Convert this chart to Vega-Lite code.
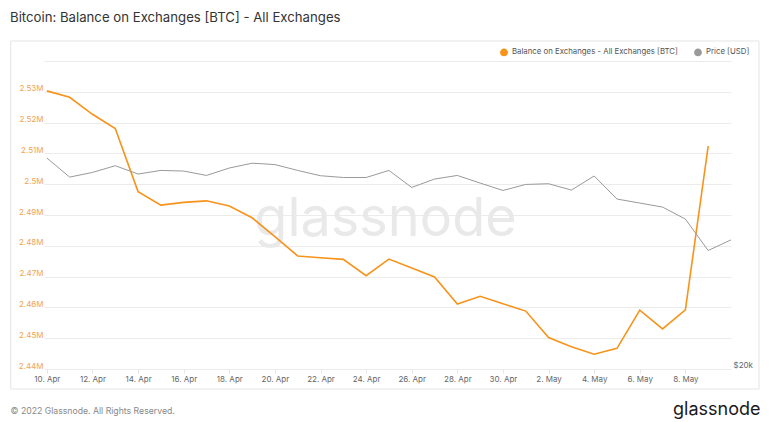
{
  "$schema": "https://vega.github.io/schema/vega-lite/v6.json",
  "width": 687,
  "height": 308,
  "autosize": {"type": "none"},
  "padding": {"left": 44, "top": 61, "right": 40, "bottom": 53},
  "background": "white",
  "config": {
    "font": "Inter",
    "view": {"stroke": null},
    "axisLeft": {
      "labelColor": "#f0a452",
      "labelFontSize": 8,
      "labelPadding": 1,
      "labelBaseline": "alphabetic",
      "labelOffset": -1,
      "labelOverlap": false,
      "ticks": false,
      "domain": false,
      "grid": true,
      "gridColor": "#ebebeb",
      "gridWidth": 1
    }
  },
  "title": {
    "text": "Bitcoin: Balance on Exchanges [BTC] - All Exchanges",
    "anchor": "start",
    "frame": "group",
    "dx": -34,
    "offset": 15,
    "fontSize": 13.2,
    "fontWeight": "normal",
    "color": "#333333",
    "font": "Inter"
  },
  "data": {
    "values": [
      {"date": "2022-04-10", "balance": 2530300, "price": 42450},
      {"date": "2022-04-11", "balance": 2528200, "price": 39660},
      {"date": "2022-04-12", "balance": 2522700, "price": 40320},
      {"date": "2022-04-13", "balance": 2518100, "price": 41300},
      {"date": "2022-04-14", "balance": 2497600, "price": 40090},
      {"date": "2022-04-15", "balance": 2493200, "price": 40610},
      {"date": "2022-04-16", "balance": 2494100, "price": 40520},
      {"date": "2022-04-17", "balance": 2494600, "price": 39890},
      {"date": "2022-04-18", "balance": 2492900, "price": 40960},
      {"date": "2022-04-19", "balance": 2489100, "price": 41670},
      {"date": "2022-04-20", "balance": 2483000, "price": 41470},
      {"date": "2022-04-21", "balance": 2476700, "price": 40610},
      {"date": "2022-04-22", "balance": 2476100, "price": 39850},
      {"date": "2022-04-23", "balance": 2475600, "price": 39600},
      {"date": "2022-04-24", "balance": 2470300, "price": 39600},
      {"date": "2022-04-25", "balance": 2475700, "price": 40610},
      {"date": "2022-04-26", "balance": 2472800, "price": 38220},
      {"date": "2022-04-27", "balance": 2469900, "price": 39380},
      {"date": "2022-04-28", "balance": 2461100, "price": 39890},
      {"date": "2022-04-29", "balance": 2463600, "price": 38820},
      {"date": "2022-04-30", "balance": 2461200, "price": 37810},
      {"date": "2022-05-01", "balance": 2458800, "price": 38630},
      {"date": "2022-05-02", "balance": 2450200, "price": 38730},
      {"date": "2022-05-03", "balance": 2447200, "price": 37860},
      {"date": "2022-05-04", "balance": 2444800, "price": 39810},
      {"date": "2022-05-05", "balance": 2446700, "price": 36670},
      {"date": "2022-05-06", "balance": 2459100, "price": 36150},
      {"date": "2022-05-07", "balance": 2453000, "price": 35630},
      {"date": "2022-05-08", "balance": 2459200, "price": 34140},
      {"date": "2022-05-09", "balance": 2512400, "price": 30520},
      {"date": "2022-05-10", "balance": null, "price": 31700}
    ]
  },
  "layer": [
    {
      "layer": [
        {
          "data": {"values": [{}]},
          "mark": {"type": "rect", "fillOpacity": 0, "fill": "white", "stroke": "#e4e4e4", "strokeWidth": 1},
          "encoding": {
            "x": {"datum": {"year": 2022, "month": 4, "date": 8, "hours": 10, "utc": true}, "type": "temporal"},
            "x2": {"datum": {"year": 2022, "month": 5, "date": 11, "hours": 5, "minutes": 28, "utc": true}},
            "y": {
              "datum": 2546500,
              "type": "quantitative",
              "axis": {
                "orient": "left",
                "values": [2440000, 2450000, 2460000, 2470000, 2480000, 2490000, 2500000, 2510000, 2520000, 2530000, 2540000],
                "tickCount": 11,
                "labelExpr": "datum.value > 2535000 ? '' : format(datum.value / 1000000, '.3~g') + 'M'",
                "title": "glassnode",
                "titleX": 341,
                "titleY": 174,
                "titleAngle": 0,
                "titleAlign": "center",
                "titleBaseline": "alphabetic",
                "titleFontSize": 54,
                "titleFontWeight": "normal",
                "titleColor": "#e9e9e9"
              }
            },
            "y2": {"datum": 2433500}
          }
        },
        {
          "mark": {"type": "line", "strokeWidth": 1.6},
          "encoding": {
            "x": {
              "field": "date",
              "type": "temporal",
              "scale": {
                "type": "utc",
                "domain": [
                  {"year": 2022, "month": 4, "date": 9, "hours": 21, "utc": true},
                  {"year": 2022, "month": 5, "date": 10, "utc": true}
                ]
              },
              "axis": {
                "values": [
                  {"year": 2022, "month": 4, "date": 10, "utc": true},
                  {"year": 2022, "month": 4, "date": 12, "utc": true},
                  {"year": 2022, "month": 4, "date": 14, "utc": true},
                  {"year": 2022, "month": 4, "date": 16, "utc": true},
                  {"year": 2022, "month": 4, "date": 18, "utc": true},
                  {"year": 2022, "month": 4, "date": 20, "utc": true},
                  {"year": 2022, "month": 4, "date": 22, "utc": true},
                  {"year": 2022, "month": 4, "date": 24, "utc": true},
                  {"year": 2022, "month": 4, "date": 26, "utc": true},
                  {"year": 2022, "month": 4, "date": 28, "utc": true},
                  {"year": 2022, "month": 4, "date": 30, "utc": true},
                  {"year": 2022, "month": 5, "date": 2, "utc": true},
                  {"year": 2022, "month": 5, "date": 4, "utc": true},
                  {"year": 2022, "month": 5, "date": 6, "utc": true},
                  {"year": 2022, "month": 5, "date": 8, "utc": true}
                ],
                "format": "%-d. %b",
                "labelFontSize": 8,
                "labelColor": "#666666",
                "labelPadding": 2,
                "labelOverlap": false,
                "tickColor": "#e6e6e6",
                "tickSize": 4,
                "domain": false,
                "grid": false,
                "title": "© 2022 Glassnode. All Rights Reserved.",
                "titleX": -34,
                "titleY": 44,
                "titleAlign": "left",
                "titleBaseline": "alphabetic",
                "titleFontSize": 8.7,
                "titleFontWeight": "normal",
                "titleColor": "#888888"
              }
            },
            "y": {
              "field": "balance",
              "type": "quantitative",
              "scale": {"domain": [2440000, 2540000], "zero": false, "nice": false},
              "axis": {
                "orient": "left",
                "values": [2440000, 2450000, 2460000, 2470000, 2480000, 2490000, 2500000, 2510000, 2520000, 2530000, 2540000],
                "tickCount": 11,
                "labelExpr": "datum.value > 2535000 ? '' : format(datum.value / 1000000, '.3~g') + 'M'",
                "title": "glassnode",
                "titleX": 341,
                "titleY": 174,
                "titleAngle": 0,
                "titleAlign": "center",
                "titleBaseline": "alphabetic",
                "titleFontSize": 54,
                "titleFontWeight": "normal",
                "titleColor": "#e9e9e9"
              }
            },
            "color": {
              "datum": "Balance on Exchanges - All Exchanges [BTC]",
              "type": "nominal",
              "scale": {
                "domain": ["Balance on Exchanges - All Exchanges [BTC]", "Price [USD]"],
                "range": ["#f7931a", "#9a9a9a"]
              },
              "legend": {
                "orient": "none",
                "legendX": 456,
                "legendY": -13,
                "direction": "horizontal",
                "title": null,
                "symbolType": "circle",
                "symbolSize": 40,
                "labelFontSize": 7.8,
                "labelColor": "#555555",
                "labelLimit": 300,
                "columnPadding": 13,
                "encode": {
                  "symbols": {
                    "update": {
                      "fill": {"scale": "color", "field": "value"},
                      "stroke": {"value": "transparent"}
                    }
                  }
                }
              }
            }
          }
        }
      ]
    },
    {
      "mark": {"type": "line", "strokeWidth": 1},
      "encoding": {
        "x": {"field": "date", "type": "temporal"},
        "y": {
          "field": "price",
          "type": "quantitative",
          "scale": {"type": "log", "domain": [20000, 60000]},
          "axis": {
            "orient": "right",
            "values": [20000],
            "labelExpr": "'$20k'",
            "grid": false,
            "ticks": false,
            "domain": false,
            "labelPadding": 2,
            "labelFontSize": 8,
            "labelColor": "#666666",
            "labelBaseline": "alphabetic",
            "labelOffset": -2,
            "title": "glassnode",
            "titleX": 29,
            "titleY": 353,
            "titleAngle": 0,
            "titleAlign": "right",
            "titleBaseline": "alphabetic",
            "titleFontSize": 18,
            "titleFontWeight": "normal",
            "titleColor": "#1a1a1a"
          }
        },
        "color": {"datum": "Price [USD]", "type": "nominal"}
      }
    }
  ],
  "resolve": {"scale": {"y": "independent"}}
}
